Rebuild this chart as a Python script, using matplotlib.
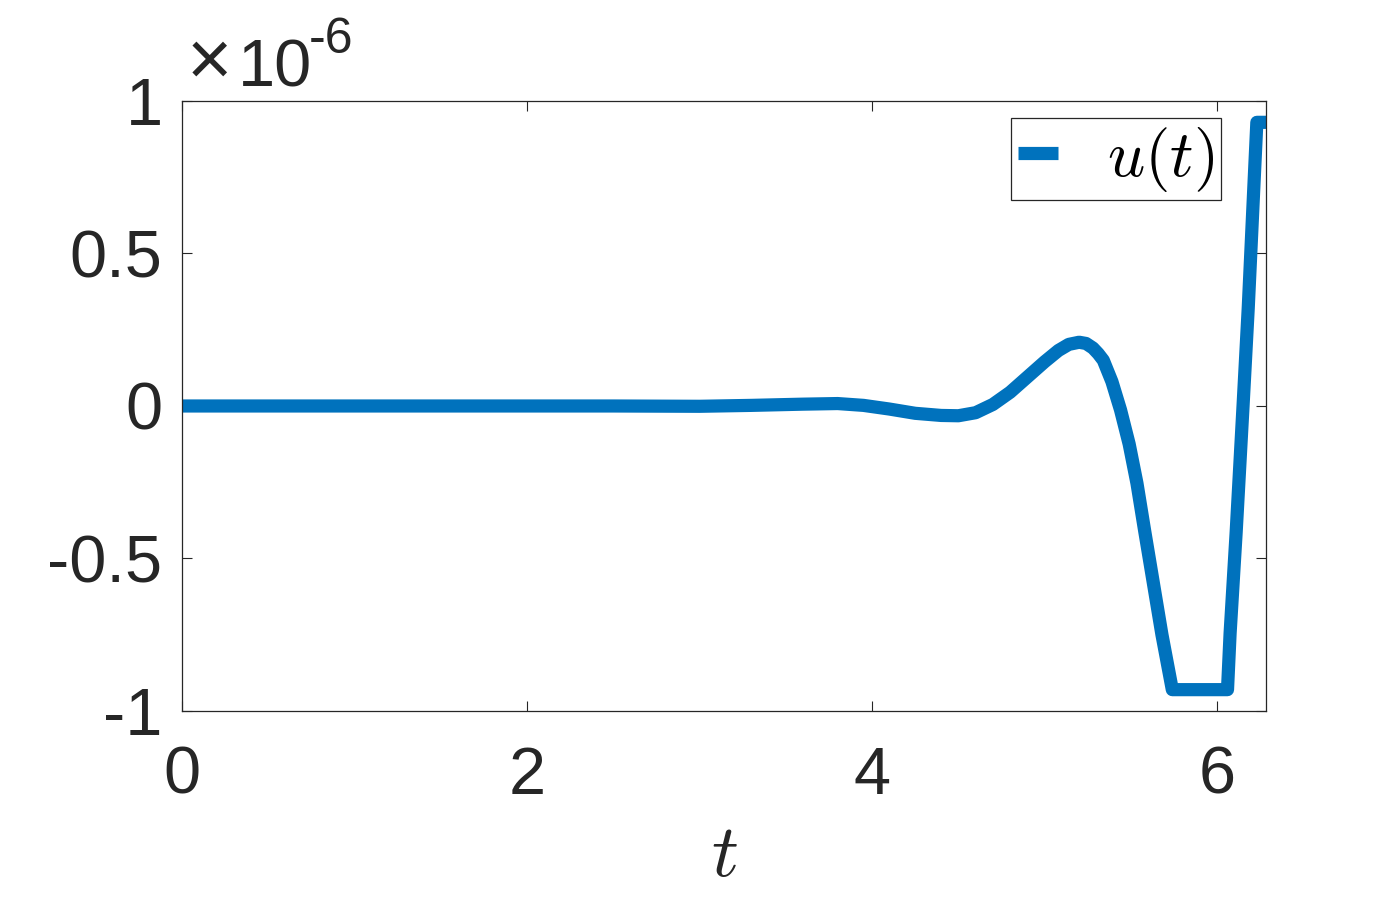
import numpy as np
import matplotlib
matplotlib.use("Agg")
import matplotlib.pyplot as plt

# Values (u in units of 1e-6)
t_vals = [0.0, 1.0, 2.0, 2.5, 3.0, 3.3, 3.6, 3.8, 3.95, 4.1, 4.25, 4.4, 4.5,
          4.6, 4.7, 4.8, 4.9, 5.0, 5.08, 5.14, 5.2, 5.24, 5.28, 5.31, 5.34,
          5.39, 5.44, 5.49, 5.535, 5.58, 5.63, 5.68, 5.74, 6.06, 6.075,
          6.11, 6.15, 6.18, 6.23, 6.283]
u_vals = [0.0, 0.0, 0.0, 0.0, -0.001, 0.002, 0.006, 0.008, 0.002, -0.01,
          -0.024, -0.031, -0.032, -0.022, 0.005, 0.045, 0.095, 0.145, 0.182,
          0.202, 0.209, 0.205, 0.19, 0.172, 0.15, 0.08, -0.013, -0.125,
          -0.253, -0.41, -0.58, -0.75, -0.93, -0.93, -0.745, -0.415, 0.0,
          0.32, 0.93, 0.93]

x_ticks = [0, 2, 4, 6]
y_ticks = [-1, -0.5, 0, 0.5, 1]
y_ticklabels = ["-1", "-0.5", "0", "0.5", "1"]

plt.rcParams['font.family'] = ['Liberation Sans', 'DejaVu Sans']
plt.rcParams['axes.unicode_minus'] = False
plt.rcParams['mathtext.fontset'] = 'cm'

fig = plt.figure(figsize=(14, 9), dpi=100)
ax = fig.add_axes([0.13, 0.21, 0.7743, 0.6778])

ax.plot(t_vals, u_vals, color='#0072BD', linewidth=9.5,
        solid_capstyle='round', solid_joinstyle='round', label=r'$u(t)$')

ax.set_xlim(0, 2 * np.pi)
ax.set_ylim(-1, 1)
ax.set_xticks(x_ticks)
ax.set_yticks(y_ticks)
ax.set_yticklabels(y_ticklabels)

ax.tick_params(direction='in', length=7, width=0.8, colors='#262626',
               labelsize=48, top=True, right=True)
ax.tick_params(axis='x', pad=25)
ax.tick_params(axis='y', pad=14)
for s in ax.spines.values():
    s.set_color('#262626')
    s.set_linewidth(0.9)

ax.set_xlabel(r'$t$', fontsize=54, color='#262626', labelpad=10)

# exponent label in MATLAB style
ax.text(0.004, 1.0, '×', transform=ax.transAxes, fontsize=56,
        color='#262626', ha='left', va='bottom', fontweight='light')
ax.text(0.052, 1.0, '10', transform=ax.transAxes, fontsize=48,
        color='#262626', ha='left', va='bottom')
ax.text(0.117, 1.062, '-6', transform=ax.transAxes, fontsize=36,
        color='#262626', ha='left', va='bottom')

leg = ax.legend(loc='upper right', bbox_to_anchor=(0.9585, 0.972),
                fontsize=47, frameon=True, fancybox=False, framealpha=1,
                handlelength=0.62, handletextpad=0.75, borderpad=0.1,
                borderaxespad=0)
leg.get_frame().set_edgecolor('#262626')
leg.get_frame().set_linewidth(0.9)
for line in leg.get_lines():
    line.set_solid_capstyle('butt')

fig.savefig('out.png', dpi=100, facecolor='white')
